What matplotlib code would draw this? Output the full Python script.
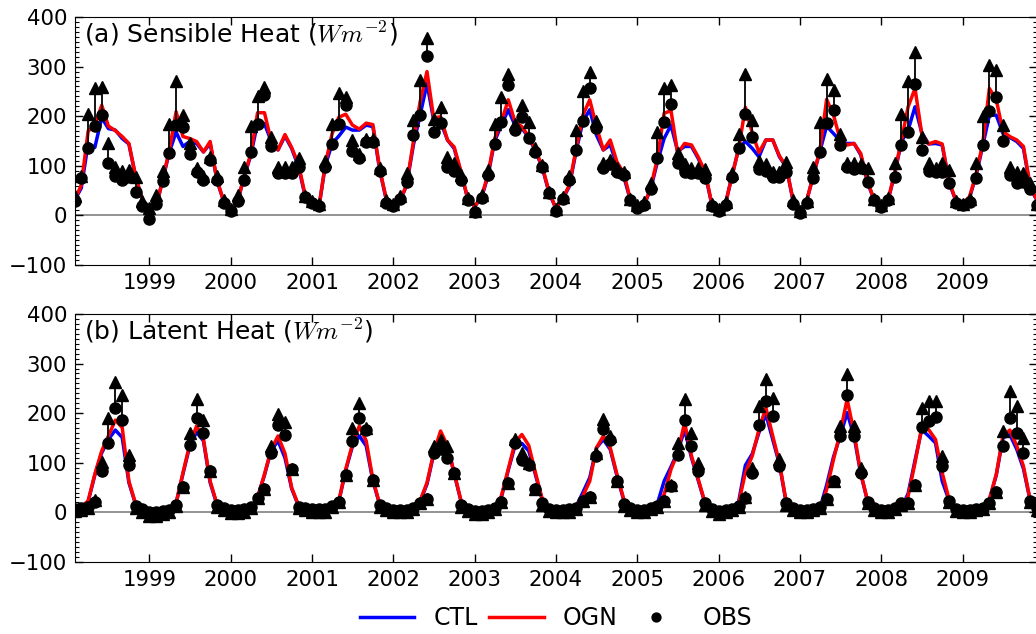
import pandas as pd
import matplotlib
matplotlib.use('Agg')
import matplotlib.pyplot as plt
import matplotlib.dates as mdates
from matplotlib.ticker import MultipleLocator

plt.rcParams['font.family'] = 'DejaVu Sans'
plt.rcParams['mathtext.fontset'] = 'cm'

# monthly means, Feb 1998 - Dec 2009
months = pd.date_range('1998-02-01', '2009-12-01', freq='MS')

# sensible heat (W m-2), one row per year
sh_obs = [30, 75, 136, 181, 202, 105, 80, 71, 78, 48, 18,
          -8, 24, 69, 126, 183, 179, 124, 87, 72, 112, 72, 26,
          8, 30, 72, 128, 185, 242, 139, 85, 85, 85, 98, 37,
          26, 18, 98, 144, 184, 222, 130, 115, 148, 147, 89, 25,
          18, 34, 68, 162, 202, 322, 169, 186, 98, 90, 71, 31,
          6, 36, 81, 143, 189, 263, 172, 199, 157, 127, 98, 45,
          9, 33, 71, 131, 190, 256, 176, 96, 103, 88, 81, 31,
          14, 20, 53, 116, 188, 224, 105, 88, 85, 85, 75, 19,
          9, 20, 78, 135, 205, 158, 94, 90, 77, 77, 87, 22,
          5, 26, 75, 127, 187, 213, 142, 98, 93, 95, 68, 31,
          16, 31, 78, 141, 169, 264, 131, 90, 88, 88, 66, 26,
          21, 28, 75, 141, 211, 239, 149, 81, 65, 68, 53, 21]
# energy-balance corrected obs
sh_cor = [40, 80, 204, 256, 258, 145, 97, 89, 91, 78, 30,
          14, 42, 89, 185, 270, 203, 145, 95, 80, 118, 80, 32,
          12, 41, 98, 180, 240, 258, 158, 98, 98, 98, 115, 40,
          30, 22, 110, 185, 246, 239, 152, 123, 155, 155, 95, 32,
          22, 40, 85, 192, 273, 358, 194, 219, 118, 105, 81, 36,
          8, 42, 92, 184, 239, 286, 184, 223, 189, 135, 102, 48,
          12, 38, 80, 172, 250, 290, 190, 105, 112, 96, 88, 34,
          20, 28, 65, 169, 256, 263, 125, 103, 95, 96, 94, 22,
          12, 28, 85, 165, 285, 192, 110, 104, 88, 88, 107, 31,
          8, 30, 98, 189, 276, 253, 165, 105, 105, 104, 95, 34,
          20, 36, 106, 204, 270, 330, 159, 105, 95, 105, 92, 30,
          24, 34, 106, 200, 303, 293, 182, 98, 88, 85, 65, 24]
sh_ogn = [32, 61, 170, 181, 222, 180, 171, 159, 145, 78, 31,
          11, 18, 71, 132, 209, 159, 155, 149, 128, 149, 71, 28,
          10, 28, 78, 125, 207, 207, 150, 132, 163, 137, 103, 40,
          24, 18, 103, 165, 198, 204, 182, 174, 186, 183, 93, 31,
          21, 31, 61, 149, 229, 290, 196, 199, 152, 138, 88, 34,
          18, 38, 81, 155, 189, 233, 189, 179, 159, 132, 98, 48,
          14, 34, 61, 135, 202, 233, 179, 132, 152, 108, 85, 31,
          16, 22, 55, 115, 206, 211, 125, 145, 142, 118, 88, 24,
          14, 24, 78, 135, 218, 166, 127, 152, 152, 120, 98, 31,
          8, 31, 78, 132, 234, 202, 152, 142, 145, 125, 68, 31,
          16, 31, 85, 152, 219, 256, 165, 144, 149, 144, 68, 31,
          23, 38, 81, 145, 256, 233, 169, 159, 152, 139, 58, 31]
sh_ctl = [32, 55, 145, 137, 197, 175, 172, 155, 144, 76, 30,
          11, 18, 70, 128, 168, 139, 149, 145, 128, 145, 70, 28,
          10, 28, 76, 122, 187, 185, 150, 132, 160, 135, 98, 38,
          24, 18, 100, 145, 160, 178, 172, 172, 182, 179, 90, 30,
          21, 31, 60, 142, 202, 266, 192, 189, 152, 135, 86, 33,
          18, 36, 78, 150, 182, 213, 182, 176, 157, 130, 96, 46,
          14, 34, 58, 130, 189, 213, 162, 132, 142, 102, 78, 30,
          16, 22, 52, 108, 155, 182, 129, 139, 139, 115, 85, 22,
          14, 24, 78, 135, 149, 135, 118, 152, 152, 118, 97, 30,
          8, 31, 78, 130, 180, 165, 150, 145, 145, 122, 66, 30,
          16, 31, 82, 149, 172, 219, 167, 144, 145, 142, 66, 30,
          23, 36, 78, 140, 202, 202, 165, 157, 149, 135, 55, 30]

# latent heat (W m-2)
le_obs = [7, 9, 11, 21, 83, 139, 211, 187, 95, 13, 6,
          1, 0, 3, 5, 14, 52, 136, 191, 161, 83, 14, 9,
          5, 5, 6, 11, 28, 48, 119, 176, 155, 87, 11, 9,
          6, 6, 7, 13, 21, 75, 143, 191, 167, 66, 15, 9,
          5, 5, 5, 9, 19, 26, 120, 127, 110, 80, 14, 6,
          3, 3, 5, 9, 21, 60, 139, 105, 95, 48, 18, 7,
          5, 5, 6, 9, 23, 30, 114, 169, 146, 63, 16, 9,
          5, 5, 9, 13, 23, 53, 115, 186, 134, 83, 18, 7,
          3, 5, 7, 13, 28, 79, 177, 224, 194, 93, 18, 9,
          5, 5, 7, 11, 26, 63, 153, 236, 154, 79, 21, 9,
          5, 5, 9, 18, 19, 56, 173, 184, 193, 93, 23, 7,
          5, 5, 7, 9, 18, 41, 134, 191, 161, 119, 23, 9]
le_cor = [2, 4, 8, 24, 101, 191, 263, 236, 115, 8, 0,
          -7, -7, -4, 0, 12, 52, 161, 228, 186, 83, 10, 4,
          -2, -2, 0, 8, 28, 48, 134, 198, 182, 87, 8, 4,
          0, 0, 0, 10, 21, 75, 171, 221, 171, 66, 10, 4,
          0, 0, 0, 6, 19, 26, 134, 146, 134, 80, 10, 2,
          -4, -4, 0, 6, 21, 60, 147, 120, 100, 48, 14, 2,
          0, 0, 0, 6, 23, 30, 120, 189, 154, 63, 12, 4,
          0, 0, 6, 10, 23, 56, 139, 228, 161, 100, 14, 2,
          -4, 0, 4, 10, 30, 90, 214, 268, 231, 108, 14, 4,
          0, 0, 4, 8, 26, 63, 175, 278, 175, 90, 18, 4,
          0, 0, 6, 14, 19, 56, 211, 224, 224, 114, 20, 2,
          0, 0, 4, 6, 18, 41, 164, 245, 214, 150, 20, 4]
le_ogn = [9, 11, 23, 77, 124, 154, 186, 171, 63, 16, 5,
          3, 3, 3, 4, 19, 80, 137, 174, 147, 63, 16, 6,
          4, 4, 4, 6, 30, 77, 127, 154, 119, 50, 14, 6,
          5, 5, 5, 8, 23, 87, 137, 174, 144, 66, 16, 6,
          4, 4, 5, 9, 23, 60, 120, 164, 134, 80, 23, 5,
          3, 3, 4, 11, 33, 87, 140, 157, 135, 80, 26, 7,
          4, 4, 5, 13, 33, 63, 130, 154, 130, 77, 26, 7,
          4, 4, 6, 16, 36, 87, 120, 181, 114, 67, 19, 5,
          3, 4, 7, 19, 80, 114, 167, 211, 154, 100, 19, 6,
          4, 4, 5, 6, 46, 107, 161, 228, 161, 80, 23, 7,
          4, 4, 5, 9, 33, 100, 171, 167, 147, 80, 26, 7,
          4, 4, 5, 9, 26, 77, 154, 166, 134, 93, 23, 9]
le_ctl = [9, 11, 22, 75, 120, 147, 166, 151, 60, 15, 5,
          3, 3, 3, 4, 18, 78, 133, 162, 144, 60, 15, 6,
          4, 4, 4, 6, 30, 75, 125, 144, 110, 48, 13, 6,
          5, 5, 5, 8, 22, 85, 133, 154, 134, 63, 15, 6,
          4, 4, 5, 9, 22, 57, 117, 139, 134, 78, 22, 5,
          3, 3, 4, 10, 30, 85, 134, 139, 124, 76, 24, 7,
          4, 4, 5, 12, 40, 70, 130, 147, 127, 74, 24, 7,
          4, 4, 6, 18, 63, 92, 122, 167, 110, 65, 18, 5,
          3, 4, 8, 22, 95, 118, 161, 198, 147, 97, 18, 6,
          4, 4, 5, 8, 55, 112, 154, 201, 154, 78, 22, 7,
          4, 4, 5, 9, 38, 105, 167, 154, 140, 63, 24, 7,
          4, 4, 5, 9, 26, 75, 150, 157, 127, 88, 22, 9]


def draw_panel(ax, ctl, ogn, obs, cor, title):
    ax.axhline(0, color='gray', lw=1.2, zorder=1)
    ax.plot(months, ctl, color='blue', lw=2.5, label='CTL', zorder=2)
    ax.plot(months, ogn, color='red', lw=2.5, label='OGN', zorder=3)
    # arrow from obs to corrected value
    ax.vlines(months, obs, cor, color='k', lw=1.3, zorder=4)
    ax.plot(months, cor, '^', color='k', ms=8.5, zorder=4)
    ax.plot(months, obs, 'o', color='k', ms=8, label='OBS', zorder=5)

    ax.set_xlim(months[0], months[-1])
    ax.set_ylim(-100, 400)
    ax.yaxis.set_major_locator(MultipleLocator(100))
    ax.yaxis.set_minor_locator(MultipleLocator(10))
    ax.xaxis.set_major_locator(mdates.YearLocator())
    ax.xaxis.set_major_formatter(mdates.DateFormatter('%Y'))
    ax.tick_params(which='both', direction='in', top=True, right=True,
                   labelsize=15.3)
    ax.tick_params(which='major', length=6, width=1)
    ax.tick_params(which='minor', length=3, width=0.8)
    ax.tick_params(axis='y', pad=5.5)
    ax.tick_params(axis='x', pad=6)
    ax.text(0.009, 0.896, title, transform=ax.transAxes, fontsize=18,
            ha='left', va='baseline')


fig = plt.figure(figsize=(10.36, 6.34), dpi=100)
ax1 = fig.add_axes([0.0724, 0.582, 0.9286, 0.3912])
ax2 = fig.add_axes([0.0724, 0.1136, 0.9286, 0.3912])

draw_panel(ax1, sh_ctl, sh_ogn, sh_obs, sh_cor,
           r'(a) Sensible Heat ($Wm^{-2}$)')
draw_panel(ax2, le_ctl, le_ogn, le_obs, le_cor,
           r'(b) Latent Heat ($Wm^{-2}$)')

handles, labels = ax2.get_legend_handles_labels()
ax2.legend(handles, labels, loc='center', bbox_to_anchor=(0.5, -0.226),
           ncol=3, frameon=False, fontsize=17, handlelength=2.3,
           handletextpad=0.8, columnspacing=0.5, numpoints=1,
           markerscale=0.8)

fig.savefig('out.png', dpi=100)
